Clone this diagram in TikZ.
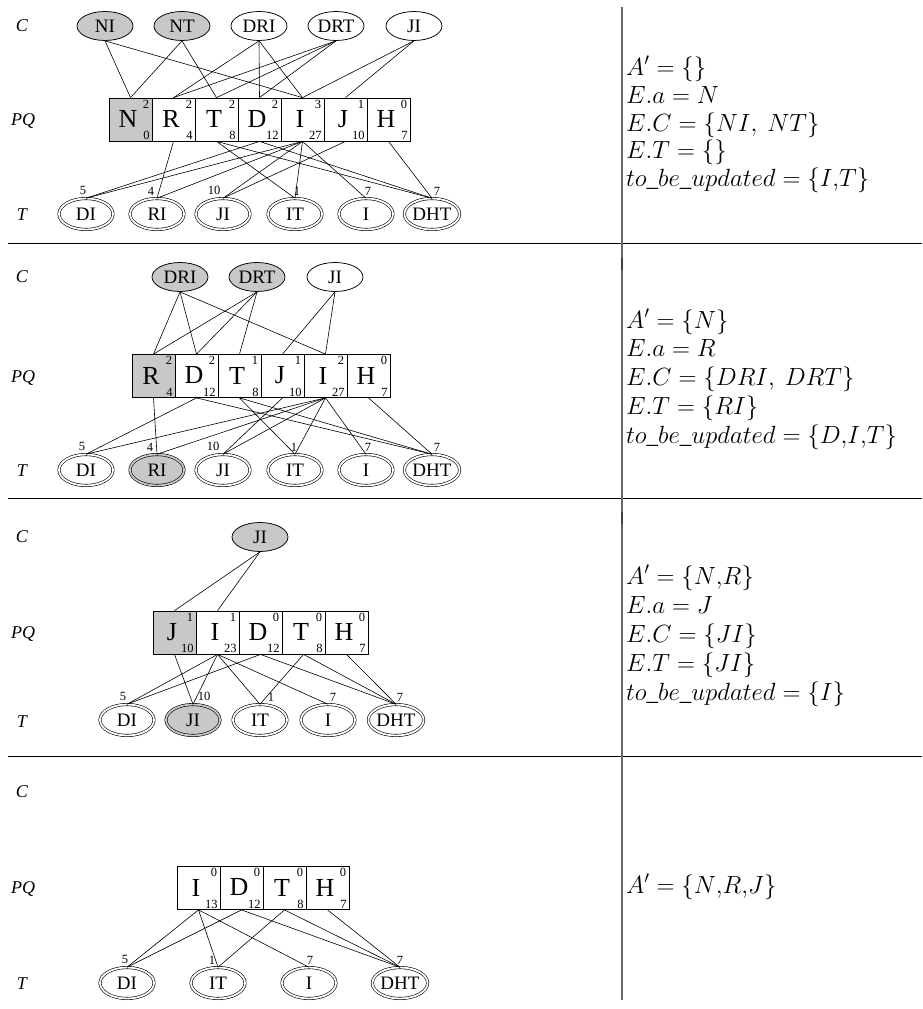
\documentclass[tikz,border=0pt]{standalone}
\usepackage[no-math]{fontspec}
\setmainfont{Liberation Serif}
\usetikzlibrary{shapes.geometric}
\definecolor{boxgray}{RGB}{200,200,200}
\tikzset{
  edge/.style={line width=0.6pt},
  cnode/.style={ellipse, draw, line width=0.75pt, minimum width=56pt, minimum height=29pt, inner sep=0pt, font=\fontsize{19}{19}\selectfont},
  tnode/.style={ellipse, draw, double, double distance=1.8pt, line width=0.6pt, minimum width=54pt, minimum height=31pt, inner sep=0pt, font=\fontsize{19}{19}\selectfont},
  shaded/.style={fill=boxgray},
  tshaded/.style={fill=boxgray, double=boxgray},
  pqb/.style={rectangle, draw, line width=0.8pt, minimum width=43pt, minimum height=43pt, inner sep=0pt},
  letter/.style={inner sep=0pt, font=\fontsize{26}{26}\selectfont},
  num/.style={inner sep=0pt, font=\fontsize{12.5}{12.5}\selectfont},
  rowlab/.style={inner sep=0pt, font=\fontsize{18}{18}\selectfont\itshape},
  mtext/.style={anchor=base west, inner sep=0pt, font=\fontsize{23}{28}\selectfont},
  sep/.style={line width=0.8pt},
}
\newcommand\pqbox[7][]{%
  \node[pqb,#1] (#2) at (#3,#4) {};
  \node[letter] (#2l) at ([xshift=-2.5pt,yshift=0.5pt]#2.center) {#5};
  \node[num,anchor=north east] (#2u) at ([xshift=-3pt,yshift=-2pt]#2.north east) {#6};
  \node[num,anchor=south east] (#2d) at ([xshift=-2.5pt,yshift=1.5pt]#2.south east) {#7};}
\newcommand\tnum[3]{\node[num,anchor=south] (#1n) at ([xshift=#2pt,yshift=3pt]#1.north) {#3};}
\begin{document}
\begin{tikzpicture}[x=1pt,y=-1pt]
\fill[white] (0,0) rectangle (922,1009);
\useasboundingbox (0,0) rectangle (922,1009);
% separators
\draw[sep] (8,243) -- (922,243);
\draw[sep] (8,498) -- (922,498);
\draw[sep] (8,756) -- (922,756);
\draw[line width=1.1pt, black!60] (622,7) -- (622,1000);
\draw[line width=1.8pt, black!75] (622,258) -- (622,270);
\draw[line width=1.8pt, black!75] (622,512) -- (622,524);
% ================= panel 1
\node[rowlab] (aLC) at (22,26) {C};
\node[rowlab] (aLP) at (23,121) {PQ};
\node[rowlab] (aLT) at (22,215) {T};
\node[cnode,shaded] (aNI) at (105,26) {NI};
\node[cnode,shaded] (aNT) at (182,26) {NT};
\node[cnode] (aDRI) at (259,26) {DRI};
\node[cnode] (aDRT) at (336,26) {DRT};
\node[cnode] (aJI) at (414,26) {JI};
\pqbox[shaded]{aN}{130.5}{119.5}{N}{2}{0}
\pqbox{aR}{173.5}{119.5}{R}{2}{4}
\pqbox{aT}{216.5}{119.5}{T}{2}{8}
\pqbox{aD}{259.5}{119.5}{D}{2}{12}
\pqbox{aI}{302.5}{119.5}{I}{3}{27}
\pqbox{aJ}{345.5}{119.5}{J}{1}{10}
\pqbox{aH}{388.5}{119.5}{H}{0}{7}
\node[tnode] (aTDI) at (86,214) {DI};
\node[tnode] (aTRI) at (157,214) {RI};
\node[tnode] (aTJI) at (223,214) {JI};
\node[tnode] (aTIT) at (295,214) {IT};
\node[tnode] (aTI) at (366,214) {I};
\node[tnode] (aTDHT) at (432,214) {DHT};
\tnum{aTDI}{-3}{5}
\tnum{aTRI}{-6}{4}
\tnum{aTJI}{-9}{10}
\tnum{aTIT}{2}{1}
\tnum{aTI}{2}{7}
\tnum{aTDHT}{5}{7}
\foreach \s/\t in {aNI/aN, aNI/aI, aNT/aN, aNT/aT, aDRI/aR, aDRI/aD, aDRI/aI, aDRT/aR, aDRT/aT, aDRT/aD, aJI/aI, aJI/aJ}
  \draw[edge] (\s.south) -- (\t.north);
\foreach \s/\t in {aR/aTRI, aT/aTIT, aT/aTDHT, aD/aTDI, aD/aTDHT, aI/aTDI, aI/aTRI, aI/aTJI, aI/aTIT, aI/aTI, aJ/aTJI, aH/aTDHT}
  \draw[edge] (\s.south) -- (\t.north);
\node[mtext] (aM1) at (626,75) {$A' = \{\}$};
\node[mtext] (aM2) at (626,103) {$E.a = N$};
\node[mtext] (aM3) at (626,131) {$E.C = \{NI,\ NT\}$};
\node[mtext] (aM4) at (626,158.5) {$E.T = \{\}$};
\node[mtext] (aM5) at (626,186.5) {$to\_be\_updated = \{I{,}T\}$};
% ================= panel 2
\node[rowlab] (bLC) at (22,277) {C};
\node[rowlab] (bLP) at (23,378) {PQ};
\node[rowlab] (bLT) at (22,471) {T};
\node[cnode,shaded] (bDRI) at (180,277) {DRI};
\node[cnode,shaded] (bDRT) at (257,277) {DRT};
\node[cnode] (bJI) at (335,277) {JI};
\pqbox[shaded]{bR}{153.5}{376}{R}{2}{4}
\pqbox{bD}{196.5}{376}{D}{2}{12}
\pqbox{bT}{239.5}{376}{T}{1}{8}
\pqbox{bJ}{282.5}{376}{J}{1}{10}
\pqbox{bI}{325.5}{376}{I}{2}{27}
\pqbox{bH}{368.5}{376}{H}{0}{7}
\node[tnode] (bTDI) at (86,470) {DI};
\node[tnode,tshaded] (bTRI) at (157,470) {RI};
\node[tnode] (bTJI) at (223,470) {JI};
\node[tnode] (bTIT) at (295,470) {IT};
\node[tnode] (bTI) at (366,470) {I};
\node[tnode] (bTDHT) at (432,470) {DHT};
\tnum{bTDI}{-4}{5}
\tnum{bTRI}{-7}{4}
\tnum{bTJI}{-10}{10}
\tnum{bTIT}{-1}{1}
\tnum{bTI}{2}{7}
\tnum{bTDHT}{5}{7}
\foreach \s/\t in {bDRI/bR, bDRI/bD, bDRI/bI, bDRT/bR, bDRT/bD, bDRT/bT, bJI/bJ, bJI/bI}
  \draw[edge] (\s.south) -- (\t.north);
\foreach \s/\t in {bR/bTRI, bD/bTDI, bD/bTDHT, bT/bTIT, bT/bTDHT, bJ/bTJI, bI/bTDI, bI/bTRI, bI/bTJI, bI/bTIT, bI/bTI, bH/bTDHT}
  \draw[edge] (\s.south) -- (\t.north);
\node[mtext] (bM1) at (626,328) {$A' = \{N\}$};
\node[mtext] (bM2) at (626,356.5) {$E.a = R$};
\node[mtext] (bM3) at (626,385.5) {$E.C = \{DRI,\ DRT\}$};
\node[mtext] (bM4) at (626,414.5) {$E.T = \{RI\}$};
\node[mtext] (bM5) at (626,443.5) {$to\_be\_updated = \{D{,}I{,}T\}$};
% ================= panel 3
\node[rowlab] (cLC) at (22,537) {C};
\node[rowlab] (cLP) at (23,634) {PQ};
\node[rowlab] (cLT) at (22,722) {T};
\node[cnode,shaded] (cJI) at (260,537) {JI};
\pqbox[shaded]{cJ}{174.5}{632.5}{J}{1}{10}
\pqbox{cI}{217.5}{632.5}{I}{1}{23}
\pqbox{cD}{260.5}{632.5}{D}{0}{12}
\pqbox{cT}{303.5}{632.5}{T}{0}{8}
\pqbox{cH}{346.5}{632.5}{H}{0}{7}
\node[tnode] (cTDI) at (127,720) {DI};
\node[tnode,tshaded] (cTJI) at (193,720) {JI};
\node[tnode] (cTIT) at (260,720) {IT};
\node[tnode] (cTI) at (328,720) {I};
\node[tnode] (cTDHT) at (396,720) {DHT};
\tnum{cTDI}{-4}{5}
\tnum{cTJI}{11}{10}
\tnum{cTIT}{11}{1}
\tnum{cTI}{5}{7}
\tnum{cTDHT}{4}{7}
\foreach \s/\t in {cJI/cJ, cJI/cI}
  \draw[edge] (\s.south) -- (\t.north);
\foreach \s/\t in {cJ/cTJI, cI/cTDI, cI/cTJI, cI/cTIT, cI/cTI, cD/cTDI, cD/cTDHT, cT/cTIT, cT/cTDHT, cH/cTDHT}
  \draw[edge] (\s.south) -- (\t.north);
\node[mtext] (cM1) at (626,584) {$A' = \{N{,}R\}$};
\node[mtext] (cM2) at (626,613) {$E.a = J$};
\node[mtext] (cM3) at (626,642.5) {$E.C = \{JI\}$};
\node[mtext] (cM4) at (626,671) {$E.T = \{JI\}$};
\node[mtext] (cM5) at (626,700.5) {$to\_be\_updated = \{I\}$};
% ================= panel 4
\node[rowlab] (dLC) at (22,792) {C};
\node[rowlab] (dLP) at (23,889) {PQ};
\node[rowlab] (dLT) at (22,984) {T};
\pqbox{dI}{198.5}{888}{I}{0}{13}
\pqbox{dD}{241.5}{888}{D}{0}{12}
\pqbox{dT}{284.5}{888}{T}{0}{8}
\pqbox{dH}{327.5}{888}{H}{0}{7}
\node[tnode] (dTDI) at (127,983) {DI};
\node[tnode] (dTIT) at (218,983) {IT};
\node[tnode] (dTI) at (309,983) {I};
\node[tnode] (dTDHT) at (400,983) {DHT};
\tnum{dTDI}{-2}{5}
\tnum{dTIT}{-6}{1}
\tnum{dTI}{1}{7}
\tnum{dTDHT}{0}{7}
\foreach \s/\t in {dI/dTDI, dI/dTIT, dI/dTI, dD/dTDI, dD/dTDHT, dT/dTIT, dT/dTDHT, dH/dTDHT}
  \draw[edge] (\s.south) -- (\t.north);
\node[mtext] (dM1) at (626,893) {$A' = \{N{,}R{,}J\}$};
\end{tikzpicture}
\end{document}
